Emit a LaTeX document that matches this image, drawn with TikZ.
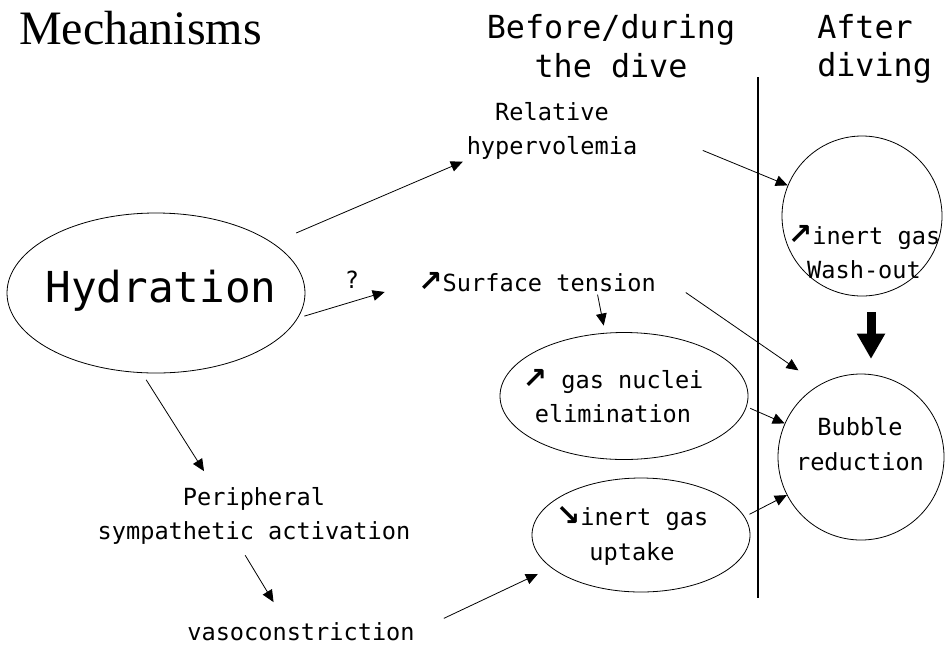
\documentclass[tikz,border=0pt]{standalone}
\usepackage{fontspec}
\usetikzlibrary{shapes.geometric,arrows.meta}
\newfontfamily\monofont{DejaVu Sans Mono}
\newfontfamily\arrfont{DejaVu Sans}
\newfontfamily\titlefont{Liberation Serif}
\newcommand{\uparr}{{\arrfont\bfseries\fontsize{22}{26}\selectfont ↗}}
\newcommand{\downarr}{{\arrfont\bfseries\fontsize{22}{26}\selectfont ↘}}
\begin{document}
\begin{tikzpicture}[x=0.75pt,y=-0.75pt,
    txt/.style={font=\monofont\fontsize{17.7}{26}\selectfont,align=center,inner sep=0pt},
    head/.style={font=\monofont\fontsize{23.8}{29}\selectfont,inner sep=0pt},
    oval/.style={ellipse,draw,line width=0.6pt,inner sep=0pt},
    ring/.style={circle,draw,line width=0.6pt,inner sep=0pt,minimum size=#1},
    arr/.style={-{Triangle[length=9pt,width=8pt]},line width=0.6pt},
    fatarr/.style={-{Triangle[length=19pt,width=20pt]},line width=6.75pt}]
    \useasboundingbox (0,0) rectangle (948,647);
    % headings
    \node[font=\titlefont\fontsize{36}{40}\selectfont,inner sep=0pt,anchor=base west] (title) at (19,44) {Mechanisms};
    \node[head,align=center] (before) at (611,46) {Before/during\\the dive};
    \node[head,align=left,anchor=west] (after) at (817,49) {After\\diving};
    \coordinate (divtop) at (758,77);
    \coordinate (divbot) at (758,598);
    \draw[line width=1.5pt] (divtop) -- (divbot);
    % boxes
    \node[oval,minimum width=223.5pt,minimum height=120pt] (hyd) at (156,293) {};
    \node[font=\monofont\fontsize{32}{38}\selectfont,inner sep=0pt] (hydtext) at (161,291) {Hydration};
    \node[txt] (rel) at (552,131) {Relative\\hypervolemia};
    \node[ring=120pt] (wash) at (862,216) {};
    \node[txt] (washtext) at (864,252) {\uparr inert gas\\Wash-out};
    \node[txt] (surf) at (537,282) {\uparr Surface tension};
    \node[oval,minimum width=186pt,minimum height=95.25pt] (nuc) at (624,396) {};
    \node[txt] (nuctext) at (613,396) {\uparr{} gas nuclei\\elimination};
    \node[ring=124.5pt] (bub) at (861,457) {};
    \node[txt] (bubtext) at (860,444) {Bubble\\reduction};
    \node[oval,minimum width=163.5pt,minimum height=85.5pt] (upt) at (641,535) {};
    \node[txt] (upttext) at (632,536) {\downarr inert gas\\uptake};
    \node[txt] (per) at (254,516) {Peripheral\\sympathetic activation};
    \node[txt] (vaso) at (301,632) {vasoconstriction};
    % links
    \path (hyd) edge[arr,shorten <=19pt,shorten >=3pt] (rel.south west);
    \path (rel.5) edge[arr,shorten <=53pt] (wash);
    \draw[arr,shorten <=5pt,shorten >=26pt] (hyd.-10) -- node[txt,pos=.45,above=10pt] (qm) {?} (surf.west);
    \path ([shift={(60,0)}]surf.south) edge[arr,shorten <=2pt,shorten >=5pt] ([shift={(-19,0)}]nuc.north);
    \path (surf.north east) edge[arr,shorten <=27pt,shorten >=19pt] (bub.120);
    \path ([shift={(9,0)}]wash.south) edge[fatarr,shorten <=12pt,shorten >=11pt] ([shift={(10,0)}]bub.north);
    \path (nuc.-5) edge[arr,shorten <=3pt] (bub);
    \path (upt.10) edge[arr,shorten <=4pt] (bub);
    \path (hyd.-100) edge[arr,shorten <=6pt,shorten >=14pt] ([shift={(-40,0)}]per.north);
    \path ([shift={(-15,0)}]per.south) edge[arr,shorten <=9pt,shorten >=18pt] ([shift={(-15,0)}]vaso.north);
    \path (vaso.east) edge[arr,shorten <=24pt,shorten >=11pt] (upt.200);
\end{tikzpicture}
\end{document}
